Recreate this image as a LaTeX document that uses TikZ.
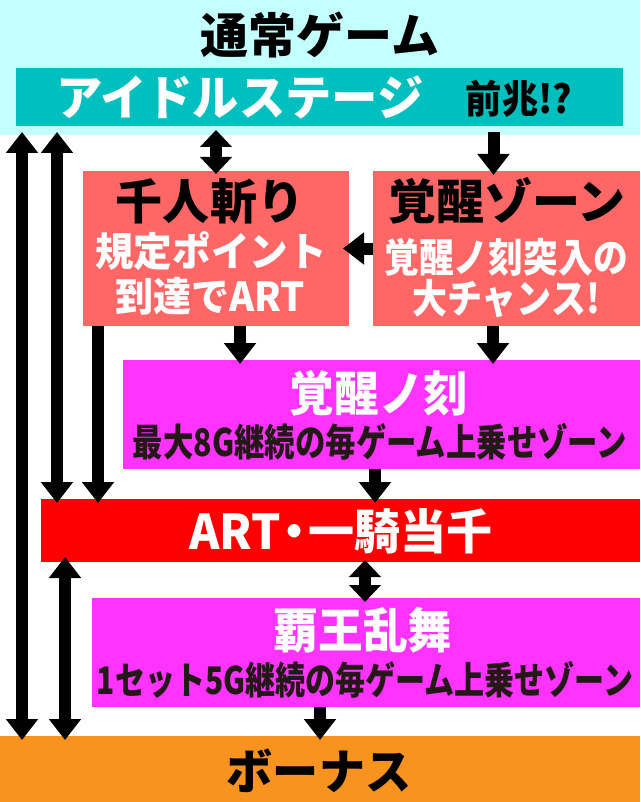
\documentclass[tikz,border=0pt]{standalone}
\usepackage{graphicx}
\usepackage{fontspec}
\setmainfont{Noto Sans CJK JP}
\usetikzlibrary{arrows.meta}

\definecolor{skyback}{HTML}{C4FFFF}
\definecolor{idleteal}{HTML}{00BFBF}
\definecolor{zonered}{HTML}{FF6666}
\definecolor{tokimag}{HTML}{FF33FF}
\definecolor{artred}{HTML}{FF0000}
\definecolor{bonusorg}{HTML}{F7931E}
\definecolor{inkblk}{HTML}{231815}

\begin{document}
\begin{tikzpicture}[x=1pt,y=-1pt,
  box/.style={inner sep=0pt,outer sep=0pt,draw=none},
  big/.style={font=\fontsize{48}{48}\selectfont\bfseries,inner sep=0pt},
  mid/.style={font=\fontsize{40}{40}\selectfont\bfseries,inner sep=0pt,text=white},
  small/.style={font=\fontsize{38}{38}\selectfont\bfseries,inner sep=0pt,text=inkblk},
  blk/.style={line width=12pt,shorten >=-4pt,-{Triangle[width=31pt,length=21pt]}},
  dblk/.style={line width=12pt,shorten >=-4pt,{Triangle[width=31pt,length=21pt]}-{Triangle[width=31pt,length=21pt]}},
  sdblk/.style={line width=12pt,{Triangle[width=31pt,length=17pt]}-{Triangle[width=31pt,length=17pt]}}]

\useasboundingbox (0,0) rectangle (640,802);
\fill[white] (0,0) rectangle (640,802);

% normal game area
\node[box,fill=skyback,minimum width=640,minimum height=135] (normal) at (320,67.5) {};
\node[big] (title) at (320,35) {通常ゲーム};

\node[box,fill=idleteal,minimum width=607,minimum height=58] (idle) at (319.5,97) {};
\node[big,text=white] (idletxt) at (240,97) {\scalebox{.965}[1]{アイドルステージ}};
\node[font=\fontsize{39}{39}\selectfont\bfseries,inner sep=0pt] (zencho) at (519,99) {\scalebox{.93}[1]{前兆!?}};

% zone boxes
\node[box,fill=zonered,minimum width=266,minimum height=155] (sen) at (216,248.5) {};
\node[big] (sentxt) at (210,201) {\scalebox{.98}[1]{千人斬り}};
\node[mid] (senA) at (211,251) {\scalebox{.965}[1]{規定ポイント}};
\node[mid] (senB) at (210,296) {\scalebox{.95}[1]{到達でART}};

\node[box,fill=zonered,minimum width=267,minimum height=155] (kzone) at (506.5,248.5) {};
\node[big] (kzonetxt) at (507,201) {覚醒ゾーン};
\node[mid] (kzoneA) at (506,257) {\scalebox{.87}[1]{覚醒ノ刻突入の}};
\node[mid] (kzoneB) at (506,299) {\scalebox{.875}[1]{大チャンス!}};

\node[box,fill=tokimag,minimum width=517,minimum height=109] (kkoku) at (381.5,414.5) {};
\node[big,text=white] (kkokutxt) at (379,393) {\scalebox{.93}[1]{覚醒ノ刻}};
\node[small] (kkokuA) at (380,442) {\scalebox{.8}[1]{最大8G継続の毎ゲーム上乗せゾーン}};

\node[box,fill=artred,minimum width=599,minimum height=63] (art) at (340.5,530.5) {};
\node[big,text=white] (arttxt) at (341,531) {\scalebox{.96}[1]{ART\makebox[.6em]{・}一騎当千}};

\node[box,fill=tokimag,minimum width=548,minimum height=109] (haou) at (366,652.5) {};
\node[big,text=white] (haoutxt) at (363,630) {\scalebox{.93}[1]{覇王乱舞}};
\node[small] (haouA) at (365,680) {\scalebox{.79}[1]{1セット5G継続の毎ゲーム上乗せゾーン}};

\node[box,fill=bonusorg,minimum width=640,minimum height=66] (bonus) at (320,769) {};
\node[big] (bonustxt) at (319,771) {\scalebox{.96}[1]{ボーナス}};

% lanes for the long arrows
\coordinate (laneA) at (22,0);
\coordinate (laneB) at (57,0);
\coordinate (laneC) at (98,0);
\coordinate (laneD) at (65,0);

\draw[dblk,shorten <=6pt] (idle.south -| laneA) -- (bonus.north -| laneA);
\draw[dblk,shorten <=6pt] (idle.south -| laneB) -- (art.north -| laneB);
\draw[blk] (sen.south -| laneC) -- (art.north -| laneC);
\draw[sdblk,shorten <=4pt,shorten >=-3pt] (idle.south -| sen.north) -- (sen.north);
\draw[blk,shorten <=6pt] (idle.south -| kzone.north) ++(-13,0) coordinate (zdrop) -- (zdrop |- kzone.north);
\draw[blk,shorten >=-6pt] (kzone.west) -- (sen.east);
\draw[blk] ([xshift=24]sen.south) -- ([xshift=24]sen.south |- kkoku.north);
\draw[blk] ([xshift=-13.5]kzone.south) -- ([xshift=-13.5]kzone.south |- kkoku.north);
\draw[blk] ([xshift=-6.5]kkoku.south) -- ([xshift=-6.5]kkoku.south |- art.north);
\draw[dblk,shorten <=-5pt] (art.south -| laneD) -- (bonus.north -| laneD);
\draw[sdblk,shorten <=-2pt,shorten >=-4pt] ([xshift=-1]haou.north |- art.south) -- ([xshift=-1]haou.north);
\draw[blk] ([xshift=-46]haou.south) -- ([xshift=-46]haou.south |- bonus.north);

\end{tikzpicture}
\end{document}
